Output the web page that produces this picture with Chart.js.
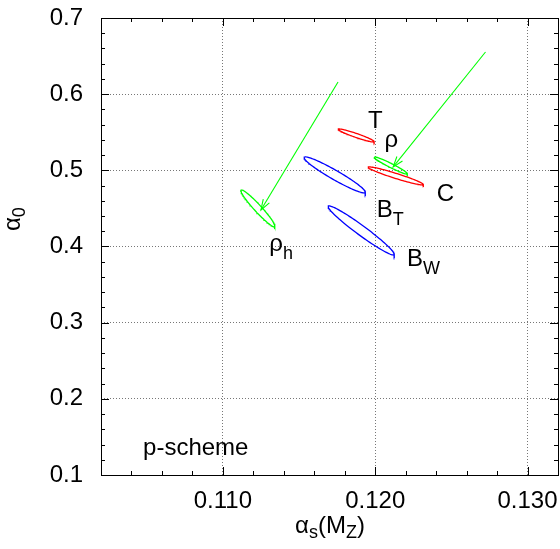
<!DOCTYPE html>
<html>
<head>
<meta charset="utf-8">
<script src="https://cdn.jsdelivr.net/npm/chart.js@4/dist/chart.umd.min.js"></script>
<style>
  html, body { margin: 0; padding: 0; background: #fff; }
  #wrap { width: 560px; height: 549px; }
</style>
</head>
<body>
<div id="wrap"><canvas id="c" width="560" height="549"></canvas></div>
<script>
// ---- axis ticks ----
const xTickValues = [0.110, 0.120, 0.130];
const yTickValues = [0.1, 0.2, 0.3, 0.4, 0.5, 0.6, 0.7];
const xMinorStep = 0.002;
const yMinorStep = 0.02;

// ---- fitted ellipses (centre, half-extents, correlation) ----
const ellipseNames = ['T', 'C', 'rho', 'B_T', 'B_W', 'rho_h'];
const ellipseCx  = [0.11875, 0.12135, 0.12102, 0.11734, 0.11908, 0.11230];
const ellipseCy  = [0.5458, 0.4927, 0.5064, 0.4940, 0.4211, 0.4500];
const ellipseSx  = [0.00118, 0.00181, 0.00109, 0.00201, 0.00217, 0.00112];
const ellipseSy  = [0.0085, 0.0118, 0.0112, 0.0236, 0.0322, 0.0243];
const ellipseRho = [-0.945, -0.956, -0.964, -0.955, -0.970, -0.960];

// ---- arrows (start -> end) ----
const arrowX0 = [0.11756, 0.12724];
const arrowY0 = [0.6160, 0.6554];
const arrowX1 = [0.11250, 0.12118];
const arrowY1 = [0.4480, 0.5045];

// ---- text labels (anchor in data units) ----
const labelText = ['T', 'ρ', 'C', 'B', 'B', 'ρ', 'p-scheme'];
const labelSub  = ['', '', '', 'T', 'W', 'h', ''];
const labelX    = [0.12001, 0.12106, 0.12461, 0.12063, 0.12261, 0.11350, 0.10476];
const labelY    = [0.5552, 0.5306, 0.4597, 0.4387, 0.3744, 0.3941, 0.1263];

// styles
const ellipseColors = ['#ff0000', '#ff0000', '#00ff00', '#0000ff', '#0000ff', '#00ff00'];
const arrowColor = '#00ff00';
const FONT = '"Liberation Sans", Arial, Helvetica, sans-serif';

function ellipsePoints(i) {
  const pts = [];
  const phi = Math.acos(ellipseRho[i]);
  const n = 120;
  for (let k = 0; k <= n; k++) {
    const t = 2 * Math.PI * k / n;
    pts.push({ x: ellipseCx[i] + ellipseSx[i] * Math.cos(t),
               y: ellipseCy[i] + ellipseSy[i] * Math.cos(t + phi) });
  }
  return pts;
}

const datasets = [];
ellipseNames.forEach((name, i) => {
  datasets.push({
    label: name, data: ellipsePoints(i), showLine: true,
    borderColor: ellipseColors[i], borderWidth: 1.3, pointRadius: 0,
    tension: 0, fill: false
  });
});
arrowX0.forEach((_, i) => {
  datasets.push({
    label: 'arrow' + i,
    data: [{ x: arrowX0[i], y: arrowY0[i] }, { x: arrowX1[i], y: arrowY1[i] }],
    showLine: true, borderColor: arrowColor, borderWidth: 1.1, pointRadius: 0
  });
});

function zeroPad(s) { s.paddingTop = 0; s.paddingBottom = 0; s.paddingLeft = 0; s.paddingRight = 0; }

const decor = {
  id: 'decor',
  afterDatasetsDraw(chart) {
    const ctx = chart.ctx;
    const xs = chart.scales.x, ys = chart.scales.y;
    const a = chart.chartArea;
    ctx.save();
    // arrowheads
    ctx.strokeStyle = arrowColor;
    ctx.lineWidth = 1.1;
    arrowX0.forEach((_, i) => {
      const x0 = xs.getPixelForValue(arrowX0[i]), y0 = ys.getPixelForValue(arrowY0[i]);
      const x1 = xs.getPixelForValue(arrowX1[i]), y1 = ys.getPixelForValue(arrowY1[i]);
      const ang = Math.atan2(y1 - y0, x1 - x0);
      const L = 11, spread = 0.33;
      ctx.beginPath();
      ctx.moveTo(x1 - L * Math.cos(ang - spread), y1 - L * Math.sin(ang - spread));
      ctx.lineTo(x1, y1);
      ctx.lineTo(x1 - L * Math.cos(ang + spread), y1 - L * Math.sin(ang + spread));
      ctx.stroke();
    });
    // frame
    ctx.strokeStyle = '#000';
    ctx.lineWidth = 1;
    ctx.strokeRect(Math.round(a.left) + 0.5, Math.round(a.top) + 0.5,
                   Math.round(a.right - a.left), Math.round(a.bottom - a.top));
    // inward ticks
    ctx.beginPath();
    const eps = 1e-9;
    for (let v = xs.min; v <= xs.max + eps; v += xMinorStep) {
      const major = xTickValues.some(t => Math.abs(t - v) < 1e-6);
      const L = major ? 8 : 4;
      const px = Math.round(xs.getPixelForValue(v)) + 0.5;
      ctx.moveTo(px, a.bottom); ctx.lineTo(px, a.bottom - L);
      ctx.moveTo(px, a.top); ctx.lineTo(px, a.top + L);
    }
    for (let v = ys.min; v <= ys.max + eps; v += yMinorStep) {
      const major = yTickValues.some(t => Math.abs(t - v) < 1e-6);
      const L = major ? 8 : 4;
      const py = Math.round(ys.getPixelForValue(v)) + 0.5;
      ctx.moveTo(a.left, py); ctx.lineTo(a.left + L, py);
      ctx.moveTo(a.right, py); ctx.lineTo(a.right - L, py);
    }
    ctx.stroke();

    // labels
    ctx.fillStyle = '#000';
    labelText.forEach((txt, i) => {
      const px = xs.getPixelForValue(labelX[i]);
      const py = ys.getPixelForValue(labelY[i]);
      ctx.font = '24px ' + FONT;
      ctx.textBaseline = 'alphabetic';
      if (labelSub[i]) {
        ctx.textAlign = 'center';
        ctx.fillText(txt, px, py);
        const w = ctx.measureText(txt).width;
        ctx.font = '18px ' + FONT;
        ctx.textAlign = 'left';
        ctx.fillText(labelSub[i], px + w / 2, py + 8);
      } else if (txt.length > 2) {
        ctx.textAlign = 'left';
        ctx.fillText(txt, px, py);
      } else {
        ctx.textAlign = 'center';
        ctx.fillText(txt, px, py);
      }
    });

    // x axis title: α_s(M_Z)
    const parts = [['α', 24, 0], ['s', 18, 5], ['(M', 24, 0], ['Z', 18, 5], [')', 24, 0]];
    let total = 0;
    parts.forEach(p => { ctx.font = p[1] + 'px ' + FONT; total += ctx.measureText(p[0]).width; });
    let cx = 330 - total / 2;
    const by = 533;
    ctx.textAlign = 'left';
    parts.forEach(p => {
      ctx.font = p[1] + 'px ' + FONT;
      ctx.fillText(p[0], cx, by + p[2]);
      cx += ctx.measureText(p[0]).width;
    });
    // y axis title: α_0
    ctx.save();
    ctx.translate(20, 231);
    ctx.rotate(-Math.PI / 2);
    ctx.font = '24px ' + FONT;
    ctx.fillText('α', 0, 0);
    const wa = ctx.measureText('α').width;
    ctx.font = '18px ' + FONT;
    ctx.fillText('0', wa, 5);
    ctx.restore();
    ctx.restore();
  }
};

new Chart(document.getElementById('c'), {
  type: 'scatter',
  data: { datasets },
  options: {
    responsive: false,
    animation: false,
    devicePixelRatio: 1,
    layout: { padding: { top: 18, right: 2, left: 0, bottom: 0 } },
    plugins: { legend: { display: false }, tooltip: { enabled: false } },
    scales: {
      x: {
        type: 'linear', min: 0.102, max: 0.132,
        afterBuildTicks: s => { s.ticks = xTickValues.map(v => ({ value: v })); },
        afterFit: s => { s.height = 74; zeroPad(s); },
        ticks: { callback: v => Number(v).toFixed(3), color: '#000',
                 font: { size: 24, family: FONT }, padding: 12, maxRotation: 0, autoSkip: false },
        grid: { color: '#777', lineWidth: 1, drawTicks: false },
        border: { display: false, dash: [1, 2] }
      },
      y: {
        type: 'linear', min: 0.1, max: 0.7,
        afterBuildTicks: s => { s.ticks = yTickValues.map(v => ({ value: v })); },
        afterFit: s => { s.width = 101; zeroPad(s); },
        ticks: { callback: v => Number(v).toFixed(1), color: '#000',
                 font: { size: 24, family: FONT }, padding: 18, autoSkip: false },
        grid: {
          color: c => (c.tick && (Math.abs(c.tick.value - 0.1) < 1e-6 || Math.abs(c.tick.value - 0.7) < 1e-6)) ? 'rgba(0,0,0,0)' : '#777',
          lineWidth: 1, drawTicks: false
        },
        border: { display: false, dash: [1, 2] }
      }
    }
  },
  plugins: [decor]
});
</script>
</body>
</html>
